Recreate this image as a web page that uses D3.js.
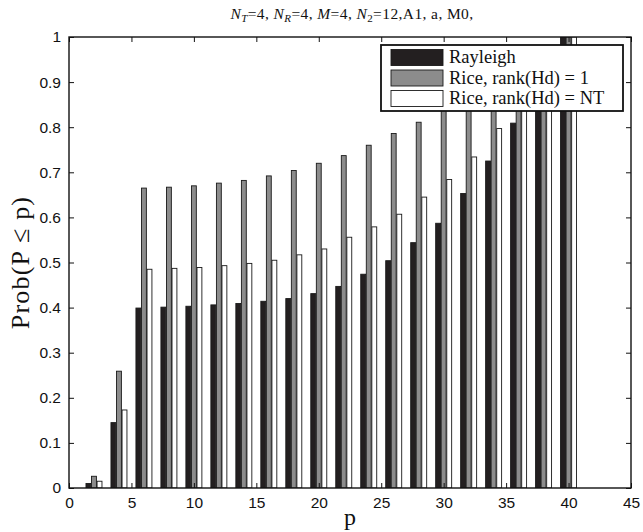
<!DOCTYPE html>
<html>
<head>
<meta charset="utf-8">
<script src="https://cdn.jsdelivr.net/npm/d3@7"></script>
<style>
  html, body { margin: 0; padding: 0; background: #fff; }
  svg { display: block; }
</style>
</head>
<body>
<svg id="chart" width="643" height="532"></svg>
<script>
// ---- data ----
const categories = [2, 4, 6, 8, 10, 12, 14, 16, 18, 20, 22, 24, 26, 28, 30, 32, 34, 36, 38, 40];
const seriesNames = ["Rayleigh", "Rice, rank(Hd) = 1", "Rice, rank(Hd) = NT"];
const rayleigh = [0.010, 0.145, 0.399, 0.401, 0.403, 0.406, 0.409, 0.414, 0.420, 0.431, 0.447, 0.474, 0.504, 0.544, 0.587, 0.653, 0.725, 0.809, 0.900, 1.0];
const riceRank1 = [0.026, 0.259, 0.665, 0.667, 0.670, 0.676, 0.682, 0.692, 0.704, 0.720, 0.737, 0.760, 0.786, 0.811, 0.840, 0.870, 0.900, 0.930, 0.965, 1.0];
const riceRankNT = [0.015, 0.173, 0.485, 0.487, 0.489, 0.493, 0.498, 0.505, 0.517, 0.530, 0.556, 0.579, 0.607, 0.645, 0.684, 0.734, 0.797, 0.870, 0.940, 1.0];
const xTicks = [0, 5, 10, 15, 20, 25, 30, 35, 40, 45];
const yTicks = [0, 0.1, 0.2, 0.3, 0.4, 0.5, 0.6, 0.7, 0.8, 0.9, 1];
const yTickLabels = ["0", "0.1", "0.2", "0.3", "0.4", "0.5", "0.6", "0.7", "0.8", "0.9", "1"];

const seriesValues = [rayleigh, riceRank1, riceRankNT];
const seriesColors = ["#231f20", "#8c8c8c", "#ffffff"];

// ---- layout ----
const W = 643, H = 532;
const margin = { left: 69, right: 12, top: 37, bottom: 44 };
const iw = W - margin.left - margin.right;
const ih = H - margin.top - margin.bottom;

const svg = d3.select("#chart");
const g = svg.append("g").attr("transform", `translate(${margin.left},${margin.top})`);

const x = d3.scaleLinear().domain([0, 45]).range([0, iw]);
const y = d3.scaleLinear().domain([0, 1]).range([ih, 0]);

const groupW = x(2 * 2 / 3) - x(0);
const inner = d3.scaleBand().domain(d3.range(seriesNames.length))
  .range([-groupW / 2, groupW / 2]).paddingInner(0.12).paddingOuter(0.06);

svg.append("defs").append("clipPath").attr("id", "clip")
  .append("rect").attr("width", iw).attr("height", ih);

const barsG = g.append("g").attr("clip-path", "url(#clip)");
seriesValues.forEach((vals, si) => {
  barsG.append("g").selectAll("rect")
    .data(categories.map((c, i) => ({ c, v: vals[i] })))
    .join("rect")
    .attr("x", d => x(d.c) + inner(si))
    .attr("width", inner.bandwidth())
    .attr("y", d => y(d.v))
    .attr("height", d => y(0) - y(d.v))
    .attr("fill", seriesColors[si])
    .attr("stroke", "#1a1a1a")
    .attr("stroke-width", 0.9);
});

// ---- axes (MATLAB-style box with inward ticks) ----
const tickLen = 5;
const fontTick = "'Liberation Sans', Arial, Helvetica, sans-serif";

const xAxisB = d3.axisBottom(x).tickValues(xTicks).tickSizeInner(-tickLen).tickSizeOuter(0).tickPadding(9).tickFormat(d3.format("d"));
const xAxisT = d3.axisTop(x).tickValues(xTicks).tickSizeInner(-tickLen).tickSizeOuter(0).tickFormat("");
const yAxisL = d3.axisLeft(y).tickValues(yTicks).tickSizeInner(-tickLen).tickSizeOuter(0).tickPadding(8)
  .tickFormat((d, i) => yTickLabels[i]);
const yAxisR = d3.axisRight(y).tickValues(yTicks).tickSizeInner(-tickLen).tickSizeOuter(0).tickFormat("");

function styleAxis(sel) {
  sel.select(".domain").remove();
  sel.selectAll(".tick line").attr("stroke", "#111").attr("stroke-width", 1);
  sel.selectAll("text").attr("font-family", fontTick).attr("font-size", 15.5).attr("fill", "#111");
}
g.append("g").attr("transform", `translate(0,${ih})`).call(xAxisB).call(styleAxis);
g.append("g").call(xAxisT).call(styleAxis);
g.append("g").call(yAxisL).call(styleAxis);
g.append("g").attr("transform", `translate(${iw},0)`).call(yAxisR).call(styleAxis);

g.append("rect").attr("width", iw).attr("height", ih)
  .attr("fill", "none").attr("stroke", "#111").attr("stroke-width", 1.4);

// ---- legend ----
const serif = "'Liberation Serif', 'Times New Roman', serif";
const legX = 381 - margin.left, legY = 45 - margin.top, legW = 242, legH = 66;
const leg = g.append("g");
leg.append("rect").attr("x", legX).attr("y", legY).attr("width", legW).attr("height", legH)
  .attr("fill", "#fff").attr("stroke", "#111").attr("stroke-width", 1.8);
seriesNames.forEach((name, i) => {
  const ry = legY + 4.5 + i * 20.5;
  leg.append("rect").attr("x", legX + 10).attr("y", ry).attr("width", 52).attr("height", 16)
    .attr("fill", seriesColors[i]).attr("stroke", "#1a1a1a").attr("stroke-width", 0.9);
  leg.append("text").attr("x", legX + 68).attr("y", ry + 13.5)
    .attr("font-family", serif).attr("font-size", 18.5).attr("fill", "#111").text(name);
});

// ---- title ----
const title = svg.append("text").attr("x", 352).attr("y", 19).attr("text-anchor", "middle")
  .attr("font-family", serif).attr("font-size", 15.5).attr("letter-spacing", 0.4).attr("fill", "#111");
const parts = [
  ["N", "it"], ["T", "sub"], ["=4, ", ""], ["N", "it"], ["R", "sub"], ["=4, ", ""],
  ["M", "it"], ["=4, ", ""], ["N", "it"], ["2", "sub"], ["=12,A1, a, M0,", ""]
];
parts.forEach(([t, k], i) => {
  const ts = title.append("tspan").text(t);
  if (k === "it") ts.attr("font-style", "italic");
  if (k === "sub") ts.attr("font-size", 11).attr("font-style", t === "2" ? "normal" : "italic").attr("dy", 3);
  if (k !== "sub" && i > 0 && parts[i - 1][1] === "sub") ts.attr("dy", -3);
});

// ---- axis labels ----
svg.append("text").attr("x", margin.left + iw / 2).attr("y", 525).attr("text-anchor", "middle")
  .attr("font-family", serif).attr("font-size", 24).attr("fill", "#111").text("p");
svg.append("text").attr("transform", `translate(29,${margin.top + ih / 2}) rotate(-90)`)
  .attr("text-anchor", "middle").attr("font-family", serif).attr("font-size", 26)
  .attr("letter-spacing", 1.2).attr("fill", "#111")
  .text("Prob(P ≤ p)");
</script>
</body>
</html>
